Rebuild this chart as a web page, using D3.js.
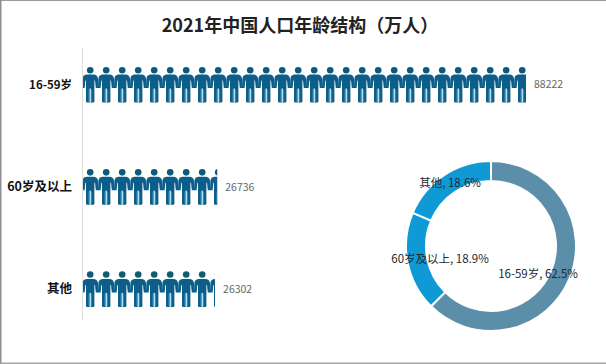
<!DOCTYPE html>
<html><head><meta charset="utf-8">
<script src="https://cdn.jsdelivr.net/npm/d3@7/dist/d3.min.js"></script>
<style>html,body{margin:0;padding:0;background:#fff}svg{display:block}</style>
</head><body><svg id="c" width="606" height="364"></svg>
<script>
const titleText = "2021年中国人口年龄结构（万人）";
const categories = ["16-59岁", "60岁及以上", "其他"];
const values = [88222, 26736, 26302];
const donutLabels = ["16-59岁, 62.5%", "60岁及以上, 18.9%", "其他, 18.6%"];

const FONT = "'Noto Sans CJK SC','Noto Sans',sans-serif";
const svg = d3.select("#c");
const defs = svg.append("defs");

// frame
svg.append("rect").attr("width", 606).attr("height", 364).attr("fill", "#fff");
svg.append("rect").attr("x", 0).attr("y", 0).attr("width", 606).attr("height", 1).attr("fill", "#9a9a9a");
svg.append("rect").attr("x", 0).attr("y", 0).attr("width", 1.5).attr("height", 364).attr("fill", "#8f8f8f");
svg.append("rect").attr("x", 0).attr("y", 362.5).attr("width", 606).attr("height", 1.5).attr("fill", "#a5a5a5");

svg.append("text").attr("x", 300).attr("y", 32).attr("text-anchor", "middle")
  .attr("font-family", FONT).attr("font-size", 18).attr("font-weight", 700).attr("fill", "#222")
  .text(titleText);

// scales
const x = d3.scaleLinear().domain([0, 88222]).range([83, 526]);
const y = d3.scaleBand().domain(categories).range([33.5, 340]);
const pitch = 16, iconH = 36;

svg.append("line").attr("x1", 82.5).attr("x2", 82.5).attr("y1", 48).attr("y2", 320)
  .attr("stroke", "#dcdcdc").attr("stroke-width", 1);

// one person icon
const sym = defs.append("g").attr("id", "person");
sym.append("circle").attr("cx", 7.2).attr("cy", 3.6).attr("r", 3.3).attr("fill", "#0f5a78");
// shoulders, arms and torso as one shape, arms meet the neighbouring figure
sym.append("path").attr("fill", "#0d5f8a")
  .attr("d", "M4,8 H10.4 C13,8 14.6,9.5 15,12 L15.4,21.5 H12.8 L12,14 H11.4 V35 Q11.4,36 10.2,36 H4.2 Q3,36 3,35 V14 H2.4 L1.6,21.5 H-1 L-0.6,12 C-0.2,9.5 1.4,8 4,8 Z");
// light gap between the legs, lighter inner edges
sym.append("rect").attr("x", 6.4).attr("y", 22).attr("width", 1.6).attr("height", 14).attr("fill", "#b4dcf0");
sym.append("rect").attr("x", 5.5).attr("y", 23).attr("width", 0.9).attr("height", 12).attr("fill", "#2f8fc0");
sym.append("rect").attr("x", 8).attr("y", 23).attr("width", 0.9).attr("height", 12).attr("fill", "#2f8fc0");

categories.forEach((c, i) => {
  const mid = y(c) + y.bandwidth() / 2;
  const top = mid - iconH / 2;
  const clipId = "clip" + i;
  defs.append("clipPath").attr("id", clipId).append("rect")
    .attr("x", x(0)).attr("y", top - 1).attr("width", x(values[i]) - x(0)).attr("height", iconH + 2);
  const n = Math.ceil((x(values[i]) - x(0)) / pitch);
  svg.append("g").attr("clip-path", `url(#${clipId})`)
    .selectAll("use").data(d3.range(n)).join("use")
    .attr("href", "#person")
    .attr("x", d => x(0) + d * pitch).attr("y", top);
  svg.append("text").attr("x", x(values[i]) + 8).attr("y", mid + 1)
    .attr("font-family", FONT).attr("font-size", 10.5).attr("fill", "#666").attr("dominant-baseline", "middle")
    .text(values[i]);
  svg.append("text").attr("x", 72).attr("y", mid + 1)
    .attr("text-anchor", "end").attr("dominant-baseline", "middle")
    .attr("font-family", FONT).attr("font-size", i === 0 ? 11.5 : 12.5).attr("font-weight", 700).attr("fill", "#111")
    .text(c);
});

// donut
const donutColors = d3.scaleOrdinal().domain(categories).range(["#5b8fa9", "#0f9ad6", "#0f9ad6"]);
const arc = d3.arc().innerRadius(65).outerRadius(85);
const pie = d3.pie().sort(null).value(d => d);
const g = svg.append("g").attr("transform", "translate(491,246)");
g.selectAll("path").data(pie(values)).join("path")
  .attr("d", arc).attr("fill", (d, i) => donutColors(categories[i]))
  .attr("stroke", "#fff").attr("stroke-width", 2);
const labelDx = [47, -51, -41], labelDy = [29, 14, -62];
g.selectAll("text").data(donutLabels).join("text")
  .attr("x", (d, i) => labelDx[i]).attr("y", (d, i) => labelDy[i])
  .attr("text-anchor", "middle").attr("dominant-baseline", "middle")
  .attr("font-family", FONT).attr("font-size", 11.5).attr("fill", "#1d2a33")
  .text(d => d);
</script></body></html>
